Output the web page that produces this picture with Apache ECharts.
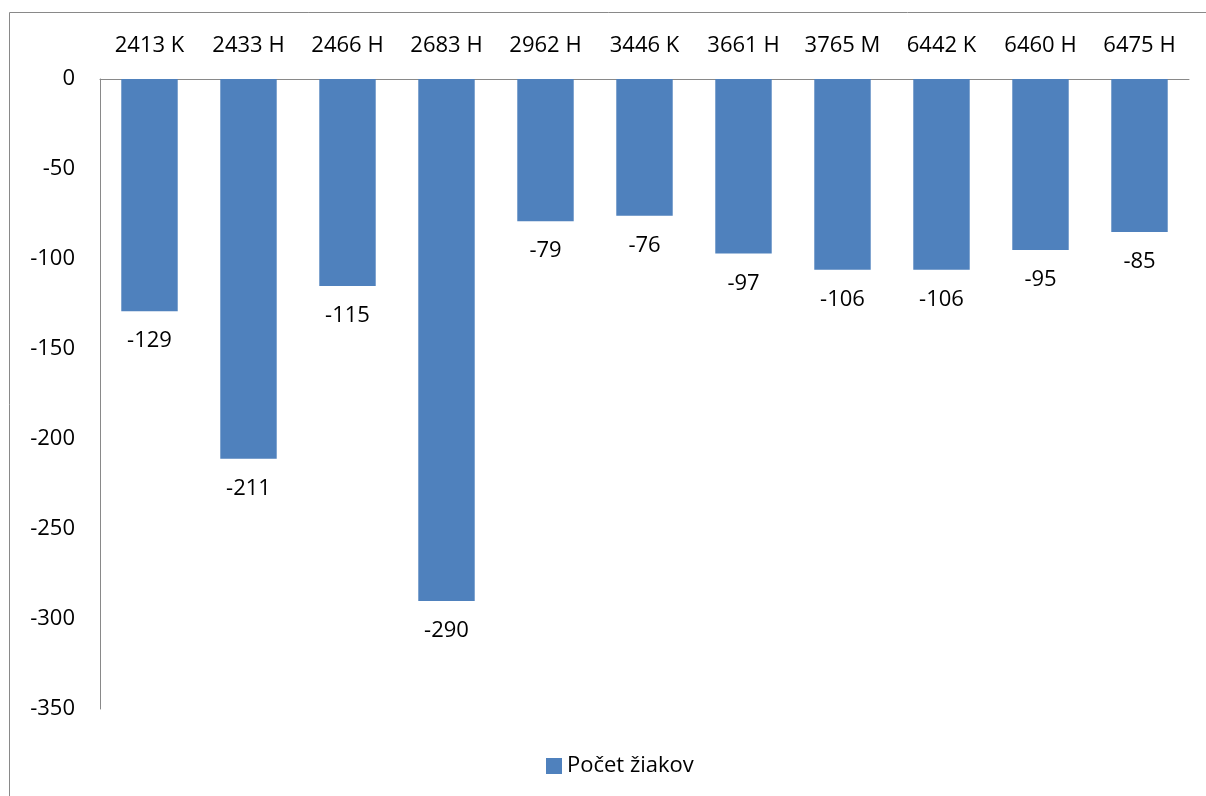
<!DOCTYPE html>
<html>
<head>
<meta charset="utf-8">
<script src="https://cdn.jsdelivr.net/npm/echarts@6/dist/echarts.min.js"></script>
<style>
  html, body { margin: 0; padding: 0; background: #fff; }
  #chart { width: 1206px; height: 796px; }
</style>
</head>
<body>
<div id="chart"></div>
<script>
// schools (category labels) and change in pupil count
const categories = ['2413 K', '2433 H', '2466 H', '2683 H', '2962 H', '3446 K', '3661 H', '3765 M', '6442 K', '6460 H', '6475 H']
const values = [-129, -211, -115, -290, -79, -76, -97, -106, -106, -95, -85]
const seriesName = 'Počet žiakov'

const font = '"Open Sans", "Noto Sans", sans-serif'
const chart = echarts.init(document.getElementById('chart'))

chart.setOption({
  animation: false,
  textStyle: { fontFamily: font },
  graphic: [
    {
      type: 'rect',
      shape: { x: 9.5, y: 12.5, width: 1400, height: 1000 },
      style: { fill: 'none', stroke: '#898989', lineWidth: 1 },
      silent: true
    }
  ],
  grid: {
    left: 100,
    right: 17,
    top: 79,
    bottom: 87
  },
  legend: {
    left: 541,
    bottom: 14,
    icon: 'rect',
    itemWidth: 16,
    itemHeight: 16,
    itemGap: 6,
    textStyle: { fontSize: 22, color: '#000', fontFamily: font },
    data: [seriesName]
  },
  xAxis: {
    type: 'category',
    position: 'top',
    data: categories,
    axisLine: { lineStyle: { color: '#898989', width: 1 } },
    axisTick: { show: false },
    axisLabel: { color: '#000', fontSize: 22, margin: 22, interval: 0 }
  },
  yAxis: {
    type: 'value',
    min: -350,
    max: 0,
    interval: 50,
    axisLine: { show: true, lineStyle: { color: '#898989', width: 1 } },
    axisTick: { show: false },
    splitLine: { show: false },
    axisLabel: { color: '#000', fontSize: 22, margin: 25 }
  },
  series: [
    {
      name: seriesName,
      type: 'bar',
      data: values,
      barWidth: '57%',
      itemStyle: { color: '#4F81BD' },
      label: {
        show: true,
        position: 'bottom',
        distance: 19,
        color: '#000',
        fontSize: 22
      }
    }
  ]
})
</script>
</body>
</html>
